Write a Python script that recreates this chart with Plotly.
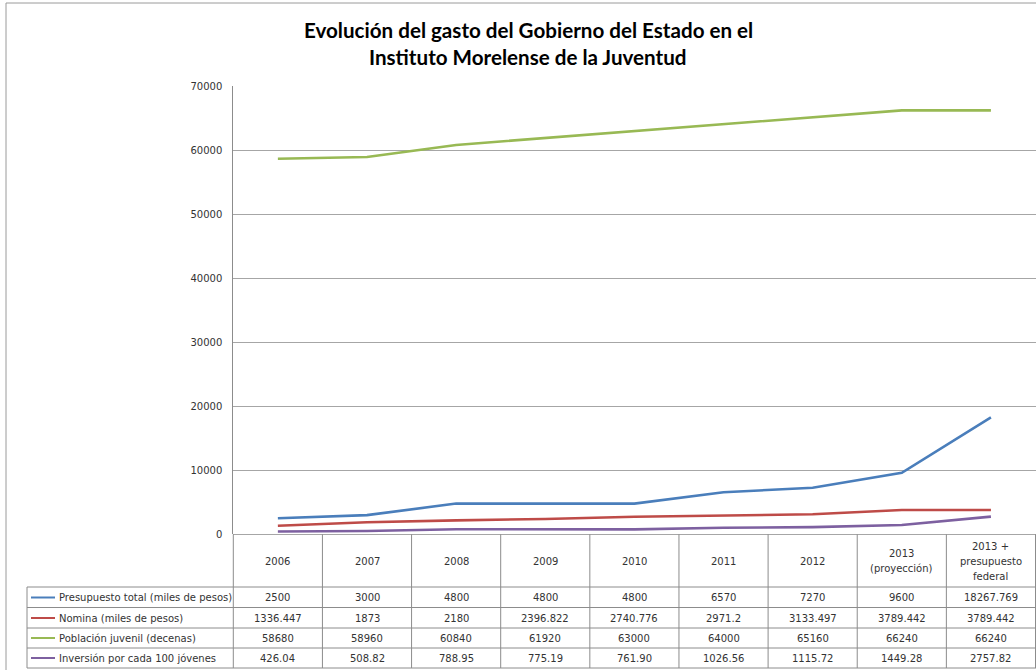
import plotly.graph_objects as go

# ---- data ----
categories = ["2006", "2007", "2008", "2009", "2010", "2011", "2012",
              "2013\n(proyección)", "2013 +\npresupuesto\nfederal"]
series_names = ["Presupuesto total (miles de pesos)",
                "Nomina (miles de pesos)",
                "Población juvenil (decenas)",
                "Inversión por cada 100 jóvenes"]
presupuesto = [2500, 3000, 4800, 4800, 4800, 6570, 7270, 9600, 18267.769]
nomina = [1336.447, 1873, 2180, 2396.822, 2740.776, 2971.2, 3133.497, 3789.442, 3789.442]
poblacion = [58680, 58960, 60840, 61920, 63000, 64000, 65160, 66240, 66240]
inversion = [426.04, 508.82, 788.95, 775.19, 761.90, 1026.56, 1115.72, 1449.28, 2757.82]
y_ticks = [0, 10000, 20000, 30000, 40000, 50000, 60000, 70000]

series = [presupuesto, nomina, poblacion, inversion]
colors = ["#4A7EBB", "#BE4B48", "#98B954", "#7D60A0"]


def fmt(v, decimals=None):
    if decimals is not None:
        return f"{v:.{decimals}f}"
    s = f"{v:.3f}".rstrip("0").rstrip(".")
    return s


row_text = [[fmt(v) for v in presupuesto],
            [fmt(v) for v in nomina],
            [fmt(v) for v in poblacion],
            [fmt(v, 2) for v in inversion]]

# ---- geometry (pixels) ----
W, H = 1036, 670
PX_L, PX_R = 233.3, 1035.5
PY_T, PY_B = 86.3, 534.3


def px(x):
    return x / W


def py(y):
    return 1 - y / H


n = len(categories)
colw = (PX_R - PX_L) / n
xs = list(range(n))

fig = go.Figure()
for name, vals, c in zip(series_names, series, colors):
    fig.add_trace(go.Scatter(x=xs, y=vals, mode="lines", name=name,
                             line=dict(color=c, width=2.6),
                             showlegend=False, hoverinfo="skip"))

grid = "#A6A6A6"
tl = "#8C8C8C"
font_t = dict(family="DejaVu Sans", size=10, color="#333333")

shapes = []
annotations = []

# outer chart border
shapes.append(dict(type="line", xref="paper", yref="paper", x0=px(6), x1=px(6),
                   y0=py(3), y1=py(670), line=dict(color="#9A9A9A", width=1)))
shapes.append(dict(type="line", xref="paper", yref="paper", x0=px(6), x1=px(1036),
                   y0=py(3), y1=py(3), line=dict(color="#9A9A9A", width=1)))

# table lines
row_ys = [587, 607.5, 628, 648, 668]
for yy in row_ys:
    shapes.append(dict(type="line", xref="paper", yref="paper", x0=px(27), x1=px(1036),
                       y0=py(yy), y1=py(yy), line=dict(color=tl, width=1)))
shapes.append(dict(type="line", xref="paper", yref="paper", x0=px(27), x1=px(27),
                   y0=py(587), y1=py(668), line=dict(color=tl, width=1)))
for i in range(n + 1):
    xx = PX_L + i * colw
    shapes.append(dict(type="line", xref="paper", yref="paper", x0=px(xx), x1=px(xx),
                       y0=py(PY_B), y1=py(668), line=dict(color=tl, width=1)))

# header labels
for i, cat in enumerate(categories):
    lines = cat.split("\n")
    k = len(lines)
    cx = PX_L + (i + 0.5) * colw
    for j, ln in enumerate(lines):
        yy = 561 + (j - (k - 1) / 2) * 15
        annotations.append(dict(x=px(cx), y=py(yy), xref="paper", yref="paper",
                                text=ln, showarrow=False, font=font_t,
                                xanchor="center", yanchor="middle"))

# data rows
row_centers = [597.5, 618, 638, 658]
for r, (name, c, texts) in enumerate(zip(series_names, colors, row_text)):
    yc = row_centers[r]
    shapes.append(dict(type="line", xref="paper", yref="paper", x0=px(31), x1=px(55),
                       y0=py(yc), y1=py(yc), line=dict(color=c, width=2)))
    annotations.append(dict(x=px(57), y=py(yc), xref="paper", yref="paper", text=name,
                            showarrow=False, font=font_t, xanchor="left", yanchor="middle"))
    for i, t in enumerate(texts):
        cx = PX_L + (i + 0.5) * colw
        annotations.append(dict(x=px(cx), y=py(yc), xref="paper", yref="paper", text=t,
                                showarrow=False, font=font_t, xanchor="center",
                                yanchor="middle"))

# title
title_lines = ["Evolución del gasto del Gobierno del Estado en el",
               "Instituto Morelense de la Juventud"]
for j, t in enumerate(title_lines):
    annotations.append(dict(x=px(528), y=py(30 + j * 27), xref="paper", yref="paper",
                            text="<b>" + t + "</b>", showarrow=False,
                            font=dict(family="Lato", size=20.6, color="#000000"),
                            xanchor="center", yanchor="middle"))

fig.update_layout(
    width=W, height=H,
    margin=dict(l=0, r=0, t=0, b=0, pad=0, autoexpand=False),
    paper_bgcolor="white", plot_bgcolor="white",
    xaxis=dict(domain=[px(PX_L), px(PX_R)], range=[-0.5, n - 0.5],
               showticklabels=False, showgrid=False, zeroline=False, showline=False,
               ticks="", automargin=False),
    yaxis=dict(domain=[py(PY_B), py(PY_T)], range=[0, 70000], tickvals=y_ticks,
               ticktext=[str(v) for v in y_ticks], automargin=False,
               showgrid=True, gridcolor=grid, gridwidth=1, zeroline=True,
               zerolinecolor=grid, zerolinewidth=1,
               showline=True, linecolor="#8C8C8C", linewidth=1,
               ticks="", ticklabelstandoff=8, tickfont=font_t),
    shapes=shapes, annotations=annotations,
)

fig.write_html(
    "out.html",
    config={"displayModeBar": False},
    post_script="document.body.style.margin='0';document.body.style.overflow='hidden';"
                "document.documentElement.style.overflow='hidden';",
)
